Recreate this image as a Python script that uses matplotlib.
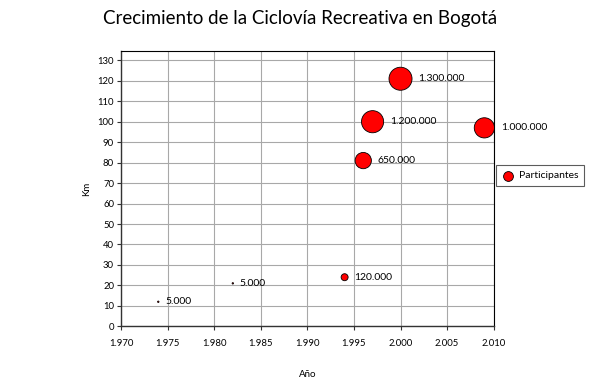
import matplotlib
matplotlib.use('agg')
import matplotlib.pyplot as plt
import matplotlib.ticker as mticker
import numpy as np

# data
anios = [1974, 1982, 1994, 1996, 1997, 2000, 2009]
km = [12, 21, 24, 81, 100, 121, 97]
participantes = [5000, 5000, 120000, 650000, 1200000, 1300000, 1000000]
etiquetas = ["5.000", "5.000", "120.000", "650.000", "1.200.000", "1.300.000", "1.000.000"]

plt.rcParams['font.family'] = ['Lato', 'DejaVu Sans']

fig = plt.figure(figsize=(6, 3.83), dpi=100)
ax = fig.add_axes([0.2017, 0.148, 0.6211, 0.7196])

# bubble area proportional to value (Excel style)
sizes = 2.115e-4 * np.array(participantes)
ax.scatter(anios, km, s=sizes, color='#ff0000', edgecolor='black', linewidth=0.6,
           zorder=3, label='Participantes')

for x, y, s, lab in zip(anios, km, sizes, etiquetas):
    off = np.sqrt(s) / 2 + 4.5
    ax.annotate(lab, (x, y), xytext=(off, 0), textcoords='offset points',
                ha='left', va='center', fontsize=7.5, zorder=4)

ax.set_xlim(1970, 2010)
ax.set_ylim(0, 134.7)
ax.xaxis.set_major_locator(mticker.MultipleLocator(5))
ax.yaxis.set_major_locator(mticker.FixedLocator(np.arange(0, 131, 10)))
ax.xaxis.set_major_formatter(mticker.FuncFormatter(lambda v, p: f"{int(v):,}".replace(',', '.')))
ax.grid(True, color='#a8a8a8', linewidth=0.8)
ax.set_axisbelow(True)
ax.tick_params(labelsize=6.8, length=3, width=0.8, color='#333333')
ax.tick_params(axis='x', pad=6)
ax.tick_params(axis='y', pad=2)
for sp in ['left', 'bottom']:
    ax.spines[sp].set_linewidth(1.0)
    ax.spines[sp].set_color('#333333')
for sp in ['top', 'right']:
    ax.spines[sp].set_linewidth(0.8)
    ax.spines[sp].set_color('black')

ax.set_xlabel("Año", fontsize=7, labelpad=16)
ax.set_ylabel("Km", fontsize=7, labelpad=5)

fig.suptitle("Crecimiento de la Ciclovía Recreativa en Bogotá", fontsize=13.5, y=0.975)

leg = fig.legend(loc='center left', bbox_to_anchor=(0.826, 0.541), fontsize=7.5,
                 frameon=True, fancybox=False, handletextpad=0.5,
                 borderpad=0.55, handlelength=1.2, borderaxespad=0)
leg.get_frame().set_edgecolor('#333333')
leg.get_frame().set_linewidth(0.8)
for h in leg.legend_handles:
    h.set_sizes([50])

plt.savefig("out.png", dpi=100)
